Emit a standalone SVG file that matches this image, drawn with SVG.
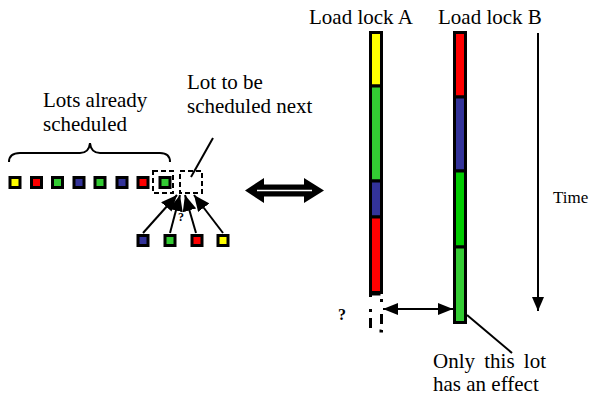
<svg xmlns="http://www.w3.org/2000/svg" width="592" height="397" viewBox="0 0 592 397">
<style>
text{font-family:"Liberation Serif","Times New Roman",Times,serif;fill:#000}
.t{font-size:21px}
.lot{stroke:#000;stroke-width:3}
.bar{stroke:#000;stroke-width:3}
.dash{fill:none;stroke:#000;stroke-width:2;stroke-dasharray:5 3}
.ln{stroke:#000;stroke-width:2;fill:none}
.y{fill:#FFFF00}.r{fill:#FF0000}.g{fill:#33CC33}.b{fill:#333399}.g2{fill:#00CC00}
</style>
<defs>
<marker id="ah" markerWidth="14" markerHeight="12" refX="14" refY="6" orient="auto" markerUnits="userSpaceOnUse">
<path d="M0,0 L14,6 L0,12 Z" fill="#000"/>
</marker>
<marker id="ahb" markerWidth="16" markerHeight="14" refX="16" refY="7" orient="auto" markerUnits="userSpaceOnUse">
<path d="M0,0 L16,7 L0,14 Z" fill="#000"/>
</marker>
<marker id="ahs" markerWidth="15" markerHeight="12" refX="15" refY="6" orient="auto-start-reverse" markerUnits="userSpaceOnUse">
<path d="M0,0 L15,6 L0,12 Z" fill="#000"/>
</marker>
</defs>

<g id="labels" font-family="Liberation Serif, Times New Roman, serif">
<text class="t" x="309" y="24">Load lock A</text>
<text class="t" x="438" y="24">Load lock B</text>
<text class="t" x="43" y="107">Lots already</text>
<text class="t" x="43" y="131">scheduled</text>
<text class="t" x="187" y="89">Lot to be</text>
<text class="t" x="187" y="113">scheduled next</text>
<text x="553" y="203" style="font-size:17px">Time</text>
<text class="t" x="433" y="368" style="word-spacing:4px">Only this lot</text>
<text class="t" x="433" y="391">has an effect</text>
<text x="338" y="320" style="font-size:16px;font-weight:bold">?</text>
<text x="178" y="221" style="font-size:12px;font-weight:bold">?</text>
</g>

<g id="scheduled-lots">
<path class="ln" d="M9,162 Q9,153 20,153 L80,153 Q89,153 90,143 Q91,153 100,153 L160,153 Q170,153 170,162" stroke-width="2.5"/>
<rect class="lot y" x="10" y="177.5" width="10" height="10"/>
<rect class="lot r" x="31.5" y="177.5" width="10" height="10"/>
<rect class="lot g" x="52.5" y="177.5" width="10" height="10"/>
<rect class="lot b" x="74" y="177.5" width="10" height="10"/>
<rect class="lot g" x="95" y="177.5" width="10" height="10"/>
<rect class="lot b" x="117" y="177.5" width="10" height="10"/>
<rect class="lot r" x="138" y="177.5" width="10" height="10"/>
<rect class="lot g" x="160" y="177.5" width="10" height="10"/>
<rect class="dash" x="153" y="171" width="20" height="22"/>
<rect class="dash" x="180" y="171" width="22" height="22"/>
</g>

<g id="candidate-lots">
<rect class="lot b" x="138" y="235.5" width="10" height="10"/>
<rect class="lot g" x="165" y="235.5" width="10" height="10"/>
<rect class="lot r" x="192" y="235.5" width="10" height="10"/>
<rect class="lot y" x="218" y="235.5" width="10" height="10"/>
</g>

<g id="exchange-arrow">
<polygon points="245,190.5 264,178 264,184.5 304,184.5 304,178 324,190.5 304,203 304,196.5 264,196.5 264,203" fill="#000"/>
<line x1="257" y1="190.5" x2="312" y2="190.5" stroke="#fff" stroke-width="1.5"/>
</g>

<g id="load-lock-a">
<rect class="bar y" x="370.5" y="32.5" width="11" height="53.5"/>
<rect class="bar g" x="370.5" y="86" width="11" height="95"/>
<rect class="bar b" x="370.5" y="181" width="11" height="36"/>
<rect class="bar r" x="370.5" y="217" width="11" height="75.5"/>
<rect x="370.5" y="294" width="11" height="37" fill="none" stroke="#000" stroke-width="3" stroke-dasharray="10 6 3 12"/>
</g>

<g id="load-lock-b">
<rect class="bar r" x="454.5" y="32.5" width="11" height="64.5"/>
<rect class="bar b" x="454.5" y="97" width="11" height="74"/>
<rect class="bar g2" x="454.5" y="171" width="11" height="76"/>
<rect class="bar g" x="454.5" y="247" width="11" height="75.5"/>
</g>

<g id="connectors">
<line class="ln" x1="213" y1="138" x2="191" y2="177"/>
<line class="ln" x1="143" y1="233" x2="177" y2="195" stroke-width="2.5" marker-end="url(#ahb)"/>
<line class="ln" x1="170" y1="233" x2="180" y2="195" stroke-width="2.5" marker-end="url(#ahb)"/>
<line class="ln" x1="196" y1="233" x2="185" y2="195" stroke-width="2.5" marker-end="url(#ahb)"/>
<line class="ln" x1="223" y1="233" x2="194" y2="195" stroke-width="2.5" marker-end="url(#ahb)"/>
<line class="ln" x1="383" y1="309" x2="453" y2="309" marker-start="url(#ahs)" marker-end="url(#ahs)"/>
<line class="ln" x1="467" y1="315" x2="512" y2="353" stroke-width="1.5"/>
<line class="ln" x1="538" y1="33" x2="538" y2="311" marker-end="url(#ah)"/>
</g>
</svg>
